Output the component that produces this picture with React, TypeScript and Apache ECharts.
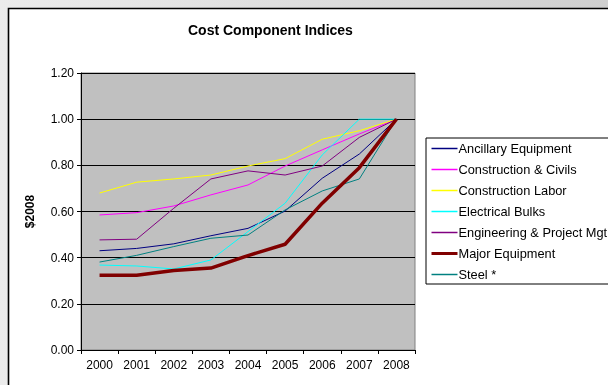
import React, { useEffect, useRef } from "react";
import * as echarts from "echarts";

const years = ["2000", "2001", "2002", "2003", "2004", "2005", "2006", "2007", "2008"];

const ancillaryEquipment = [0.43, 0.44, 0.46, 0.495, 0.527, 0.602, 0.744, 0.849, 1.0];
const constructionCivils = [0.585, 0.595, 0.624, 0.672, 0.715, 0.797, 0.867, 0.936, 1.0];
const constructionLabor = [0.68, 0.727, 0.741, 0.758, 0.797, 0.829, 0.913, 0.95, 1.0];
const electricalBulks = [0.368, 0.364, 0.351, 0.39, 0.513, 0.636, 0.845, 1.0, 1.0];
const engineeringMgt = [0.477, 0.48, 0.614, 0.741, 0.776, 0.758, 0.797, 0.921, 1.0];
const majorEquipment = [0.324, 0.324, 0.344, 0.355, 0.409, 0.458, 0.636, 0.79, 1.0];
const steel = [0.381, 0.41, 0.448, 0.484, 0.498, 0.607, 0.689, 0.741, 1.0];

const FONT = "'Liberation Sans', Arial, sans-serif";

const seriesDefs = [
  { name: "Ancillary Equipment", data: ancillaryEquipment, color: "#000080", width: 1 },
  { name: "Construction & Civils", data: constructionCivils, color: "#ff00ff", width: 1 },
  { name: "Construction Labor", data: constructionLabor, color: "#ffff00", width: 1 },
  { name: "Electrical Bulks", data: electricalBulks, color: "#00ffff", width: 1 },
  { name: "Engineering & Project Mgt", data: engineeringMgt, color: "#800080", width: 1 },
  { name: "Steel *", data: steel, color: "#008080", width: 1 },
  { name: "Major Equipment", data: majorEquipment, color: "#800000", width: 3.5 },
];

const legendOrder = [
  "Ancillary Equipment",
  "Construction & Civils",
  "Construction Labor",
  "Electrical Bulks",
  "Engineering & Project Mgt",
  "Major Equipment",
  "Steel *",
];

export default function App() {
  const ref = useRef<HTMLDivElement>(null);

  useEffect(() => {
    if (!ref.current) return;
    const chart = echarts.init(ref.current, undefined, { renderer: "svg" });
    chart.setOption({
      animation: false,
      textStyle: { fontFamily: FONT },
      graphic: [
        {
          type: "rect",
          z: -10,
          silent: true,
          shape: { x: 0, y: 0, width: 608, height: 385 },
          style: {
            fill: new echarts.graphic.LinearGradient(0, 0, 1, 0, [
              { offset: 0, color: "#ececec" },
              { offset: 1, color: "#cfcfcf" },
            ]),
          },
        },
        {
          type: "rect",
          z: -9,
          silent: true,
          shape: { x: 8.5, y: 8.5, width: 640, height: 420 },
          style: { fill: "#ffffff", stroke: "#000000", lineWidth: 1.6 },
        },
      ],
      title: {
        text: "Cost Component Indices",
        left: 188,
        top: 23,
        padding: 0,
        textStyle: { fontFamily: FONT, fontSize: 14, fontWeight: "bold", color: "#000" },
      },
      legend: {
        data: legendOrder.map((name) => {
          const def = seriesDefs.find((s) => s.name === name)!;
          return {
            name,
            lineStyle: { color: def.color, width: def.width > 1 ? 3 : 1.5 },
          };
        }),
        orient: "vertical",
        left: 426,
        top: 138,
        padding: [4, 5, 3, 4],
        itemWidth: 26,
        itemHeight: 14,
        itemGap: 8,
        itemStyle: { opacity: 0 },
        backgroundColor: "#ffffff",
        borderColor: "#000000",
        borderWidth: 1,
        textStyle: { fontFamily: FONT, fontSize: 12.8, color: "#000", padding: [0, 0, 0, -4] },
      },
      grid: {
        left: 81,
        top: 73,
        right: 193,
        bottom: 35,
        show: true,
        backgroundColor: "#c0c0c0",
        borderColor: "#808080",
        borderWidth: 1,
      },
      xAxis: {
        type: "category",
        data: years,
        boundaryGap: true,
        axisLine: { lineStyle: { color: "#000", width: 1 } },
        axisTick: { show: true, length: 4, interval: 0, lineStyle: { color: "#000" } },
        axisLabel: { fontFamily: FONT, fontSize: 12, color: "#000", margin: 9, interval: 0 },
      },
      yAxis: {
        type: "value",
        min: 0,
        max: 1.2,
        interval: 0.2,
        name: "$2008",
        nameLocation: "middle",
        nameRotate: 90,
        nameGap: 45,
        nameTextStyle: { fontFamily: FONT, fontSize: 12, fontWeight: "bold", color: "#000" },
        axisLine: { show: true, lineStyle: { color: "#000", width: 1 } },
        axisTick: { show: true, length: 4, lineStyle: { color: "#000" } },
        axisLabel: {
          fontFamily: FONT,
          fontSize: 12,
          color: "#000",
          margin: 7,
          formatter: (v: number) => v.toFixed(2),
        },
        splitLine: { show: true, lineStyle: { color: "#000", width: 1 } },
      },
      series: seriesDefs.map((s) => ({
        name: s.name,
        type: "line",
        data: s.data,
        symbol: "none",
        color: s.color,
        lineStyle: { color: s.color, width: s.width },
        itemStyle: { color: s.color },
      })),
    });
    return () => chart.dispose();
  }, []);

  return (
    <div
      ref={ref}
      style={{ position: "fixed", left: 0, top: 0, width: 608, height: 385 }}
    />
  );
}
